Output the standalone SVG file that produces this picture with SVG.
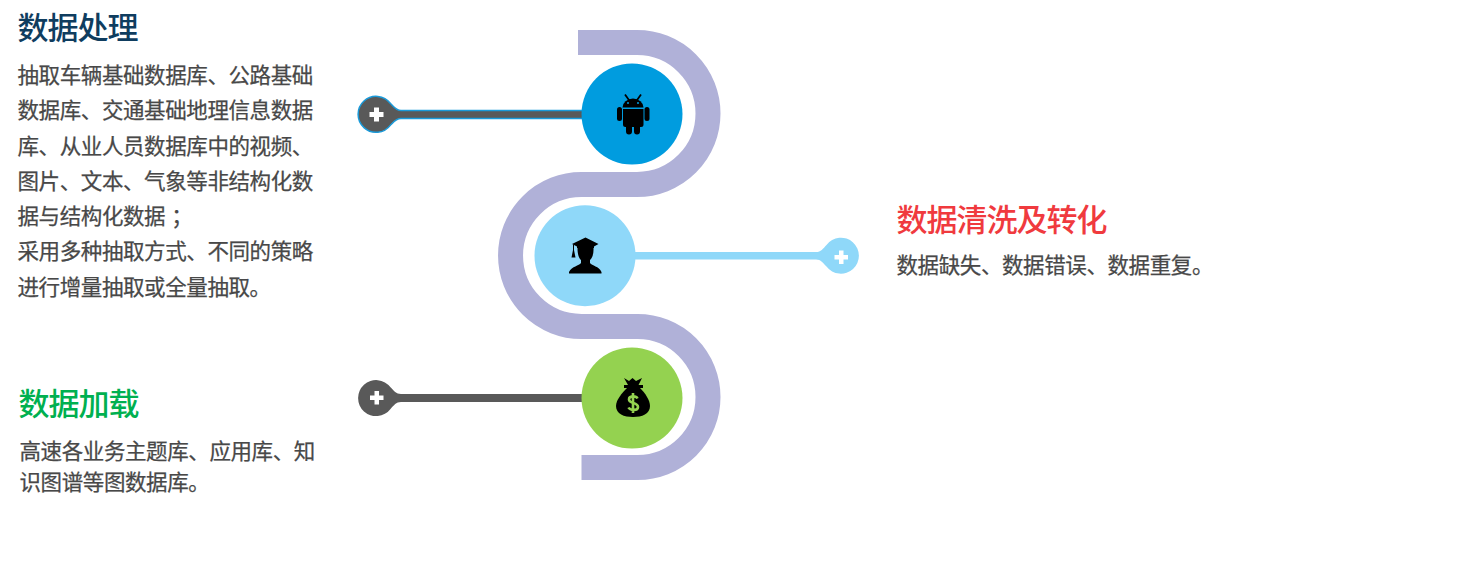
<svg xmlns="http://www.w3.org/2000/svg" width="1480" height="568" viewBox="0 0 1480 568">
<style>
text{font-family:"Noto Sans CJK SC","Liberation Sans",sans-serif}
.t{font-size:31px;letter-spacing:-1px;font-weight:500}
.b{font-size:21.500px;letter-spacing:-.4px;fill:#484848;stroke:#484848;stroke-width:.25px}
.ic{fill:#000}
.pl{fill:#fff}
</style>
<rect width="1480" height="568" fill="#fff"/>
<g id="connectors">
<path id="band" d="M578 42.500H637A71 71 0 0 1 637 184.500H581.500A71 71 0 0 0 581.500 326.500H637.500A70.500 70.500 0 0 1 637.500 467.500H581.500" fill="none" stroke="#b0b1d8" stroke-width="25"/>
<path id="pin1" d="M583 110.500H401C396 110.500 394 107 390.500 103.500A18 18 0 1 0 390.500 125.100C394 121.500 396 118.500 401 118.500H583Z" fill="#595959" stroke="#1a9ad9" stroke-width="1.500"/>
<path id="pin2" d="M634 252H816C821 252 823 248.500 826.500 244.900A18 18 0 1 1 826.500 266.500C823 263 821 259.500 816 259.500H634Z" fill="#8fd8f9"/>
<path id="pin3" d="M583 394H401C396 394 394 391 390.500 387.300A18 18 0 1 0 390.500 408.900C394 405.300 396 402 401 402H583Z" fill="#595959"/>
</g>
<g id="node-extract">
<circle cx="632" cy="114" r="50.500" fill="#009cdf"/>
<g class="ic">
<path d="M622.500 107.500A10.500 9 0 0 1 643.500 107.500Z"/>
<path d="M625 94.500L630 101.500M641 94.500L636 101.500" stroke="#000" stroke-width="1.800" fill="none"/>
<path d="M623 109H643.500V124.500Q643.500 127 641 127H640V131.500A3 3 0 0 1 634 131.500V127H632V131.500A3 3 0 0 1 626 131.500V127H625.500Q623 127 623 124.500Z"/>
<rect x="617" y="107" width="5" height="14" rx="2.500"/>
<rect x="644.500" y="107" width="5" height="14" rx="2.500"/>
</g>
<circle cx="628" cy="103" r="1" fill="#009cdf"/><circle cx="638" cy="103" r="1" fill="#009cdf"/>
<text class="t" x="17.500" y="39" fill="#0f3d5f">数据处理</text>
<text class="b" x="17.500" y="83">抽取车辆基础数据库、公路基础</text>
<text class="b" x="17.500" y="118">数据库、交通基础地理信息数据</text>
<text class="b" x="17.500" y="153.500">库、从业人员数据库中的视频、</text>
<text class="b" x="17.500" y="188.500">图片、文本、气象等非结构化数</text>
<text class="b" x="17.500" y="224">据与结构化数据<tspan dx="6">；</tspan></text>
<text class="b" x="17.500" y="259">采用多种抽取方式、不同的策略</text>
<text class="b" x="17.500" y="294.500">进行增量抽取或全量抽取。</text>
<path class="pl" d="M374 107.500H379V112H383.500V117H379V121.500H374V117H369.500V112H374Z"/>
</g>
<g id="node-clean">
<circle cx="585" cy="255.700" r="50.500" fill="#8fd8f9"/>
<g class="ic">
<path d="M585.500 237.500L598.500 244L594 246.500V248H577V246.500L572 244Z"/>
<path d="M577.500 248H593.500C593.800 253 592.500 258 590 260V263C592 266 599 266 601.500 272V273.500H569V272C572 266 579 266 581 263V260C578.500 258 577.500 253 577.500 248Z"/>
<path d="M573 244.500H574V250L575.500 257.500H571.500L573 250Z"/>
</g>
<text class="t" x="896.500" y="230.500" fill="#f03a3e">数据清洗及转化</text>
<text class="b" x="896.500" y="273">数据缺失、数据错误、数据重复。</text>
<path class="pl" d="M839 250.500H843.500V255H848V259.500H843.500V264H839V259.500H834.500V255H839Z"/>
</g>
<g id="node-load">
<circle cx="632" cy="398" r="50.500" fill="#94d250"/>
<g class="ic">
<path d="M624 378L629 381L632.500 378L636 381L642 378L638.500 385H643V388H624V385H628Z"/>
<path d="M627 388H640C645 393 650 400 650 406C650 414 642 417 633 417C624 417 616 414 616 406C616 400 622 393 627 388Z"/>
</g>
<path d="M637.500 398.500C636 395.500 629 395.500 629 399.500C629 404 638 402 638 407C638 411 630 410.500 628.500 407.500M633 393V413" fill="none" stroke="#94d250" stroke-width="2.600"/>
<text class="t" x="18.500" y="414.500" fill="#00b050">数据加载</text>
<text class="b" x="19.500" y="459">高速各业务主题库、应用库、知</text>
<text class="b" x="19.500" y="489.500">识图谱等图数据库。</text>
<path class="pl" d="M374.500 391H379V395.500H383.500V400H379V404.500H374.500V400H370V395.500H374.500Z"/>
</g>
</svg>
